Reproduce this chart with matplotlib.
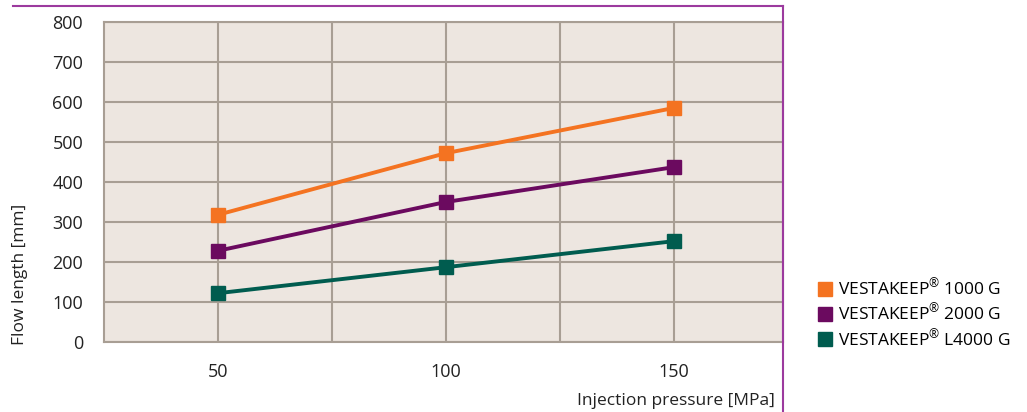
import matplotlib
matplotlib.use("Agg")
import matplotlib.pyplot as plt
from matplotlib.lines import Line2D

pressure = [50, 100, 150]
series_names = ["VESTAKEEP$^{®}$ 1000 G", "VESTAKEEP$^{®}$ 2000 G", "VESTAKEEP$^{®}$ L4000 G"]
flow_1000 = [318, 472, 585]
flow_2000 = [228, 350, 437]
flow_4000 = [122, 187, 252]
colors = ["#f47321", "#6b0a5f", "#005c4f"]
y_ticks = [0, 100, 200, 300, 400, 500, 600, 700, 800]
x_ticks = [50, 100, 150]

plt.rcParams['font.family'] = ['Open Sans', 'DejaVu Sans']
plt.rcParams['mathtext.fontset'] = 'custom'
plt.rcParams['mathtext.rm'] = 'Open Sans'
plt.rcParams['mathtext.it'] = 'Open Sans'
plt.rcParams['mathtext.default'] = 'regular'

W, H = 1027, 412
fig = plt.figure(figsize=(W / 100, H / 100), dpi=100)
ax = fig.add_axes([104 / W, 1 - 342 / H, (783 - 104) / W, (342 - 22) / H])
ax.set_facecolor("#ede6e0")
ax.set_xlim(25, 174)
ax.set_ylim(0, 800)
ax.set_yticks(y_ticks)
ax.set_xticks(x_ticks)
ax.set_xticks([75, 125], minor=True)
ax.grid(True, which="both", color="#a89e94", linewidth=1.5)
ax.set_axisbelow(True)
for s in ax.spines.values():
    s.set_color("#a89e94")
    s.set_linewidth(1.5)
ax.tick_params(length=0, labelsize=13, colors="#222222", which="both")
ax.tick_params(axis="y", pad=15)
ax.tick_params(axis="x", pad=15)

for vals, c, name in zip([flow_1000, flow_2000, flow_4000], colors, series_names):
    ax.plot(pressure, vals, color=c, linewidth=2.8, marker="s", markersize=10.5,
            label=name, zorder=3, clip_on=False)

fig.text(20 / W, 1 - 345 / H, "Flow length [mm]", rotation=90, ha="center", va="bottom",
         fontsize=12.5, color="#222222")

fig.text(775 / W, 1 - 401 / H, "Injection pressure [MPa]", ha="right", va="center",
         fontsize=12.5, color="#222222")

handles = [Line2D([], [], linestyle="none", marker="s", markersize=10, color=c) for c in colors]
fig.legend(handles, series_names, loc="center left", bbox_to_anchor=(808 / W, 1 - 313 / H),
           frameon=False, fontsize=12.5, handlelength=1.0, handletextpad=0.25,
           labelspacing=0.2, borderpad=0)

frame_color = "#9c3a9e"
fig.add_artist(Line2D([13 / W, 783 / W], [1 - 6 / H, 1 - 6 / H], color=frame_color, linewidth=1.5,
                      transform=fig.transFigure))
fig.add_artist(Line2D([783 / W, 783 / W], [1 - 6 / H, 0], color=frame_color, linewidth=1.5,
                      transform=fig.transFigure))

fig.savefig("out.png", dpi=100)
